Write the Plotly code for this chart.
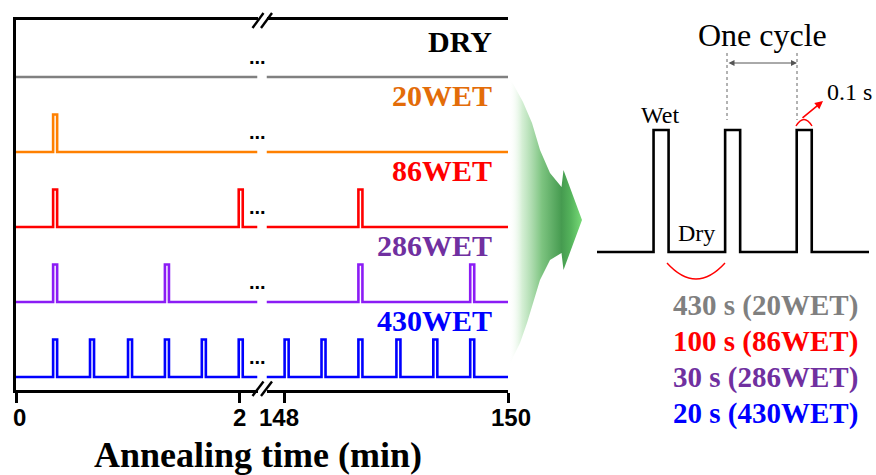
import plotly.graph_objects as go

W, H = 876, 475

# ---------------- data ----------------
series_names = ["DRY", "20WET", "86WET", "286WET", "430WET"]
row_levels = [4, 3, 2, 1, 0]
# centres of the wet pulses (min) in the early window (0-2 min) and late window (148-150 min)
pulses_early = [[], [0.35], [0.35, 2.01], [0.35, 1.35],
                [0.35, 0.68, 1.02, 1.35, 1.68, 2.01]]
pulses_late = [[], [], [148.68], [148.68, 149.68],
               [148.02, 148.35, 148.68, 149.02, 149.35, 149.68]]
early_ticks = [0, 2]
late_ticks = [148, 150]
early_window = [0, 2.16]
late_window = [147.84, 150]

# schematic: wet pulses starting at each cycle
schem_cycles = [0, 1, 2]
cycle_texts = ["430 s (20WET)", "100 s (86WET)", "30 s (286WET)", "20 s (430WET)"]

# ---------------- styles ----------------
line_colors = ["#808080", "#FF8000", "#FF0000", "#8B1CF5", "#0000FF"]
label_colors = ["#000000", "#E36C09", "#FF0000", "#7030A0", "#0000FF"]
cycle_colors = ["#808080", "#FF0000", "#7030A0", "#0000FF"]
SERIF = "Liberation Serif"
SANS = "Liberation Sans"
PULSE_W = 0.036
PULSE_H = 0.5


def px(x):
    return x / W


def py(y):
    return 1 - y / H


def pulse_path(t0, t1, centers, level):
    xs, ys = [t0], [level]
    for c in centers:
        a, b = c - PULSE_W / 2, c + PULSE_W / 2
        xs += [a, a, b, b]
        ys += [level, level + PULSE_H, level + PULSE_H, level]
    xs.append(t1)
    ys.append(level)
    return xs, ys


fig = go.Figure()

for name, lvl, col, pe, pl in zip(series_names, row_levels, line_colors, pulses_early, pulses_late):
    xs, ys = pulse_path(early_window[0], early_window[1], pe, lvl)
    fig.add_trace(go.Scatter(x=xs, y=ys, mode="lines", xaxis="x", yaxis="y",
                             line=dict(color=col, width=2.6), showlegend=False, hoverinfo="skip"))
    xs, ys = pulse_path(late_window[0], late_window[1], pl, lvl)
    fig.add_trace(go.Scatter(x=xs, y=ys, mode="lines", xaxis="x2", yaxis="y",
                             line=dict(color=col, width=2.6), showlegend=False, hoverinfo="skip"))

# green gradient arrow (decoration, pixel overlay axes)
arrow_x = [509, 512, 523, 532, 540, 550, 561.5, 563.5, 582, 563.5, 561.5, 550, 540, 533, 527, 520, 513, 509]
arrow_y = [78, 82, 102, 123, 150, 173, 187, 170, 220, 270, 253, 260, 280, 303, 323, 343, 357, 368]
fig.add_trace(go.Scatter(
    x=arrow_x, y=arrow_y, xaxis="x3", yaxis="y3", mode="lines", fill="toself",
    line=dict(width=0, color="rgba(0,0,0,0)"),
    fillgradient=dict(type="horizontal", colorscale=[
        [0.0, "rgba(255,255,255,0)"], [0.18, "rgba(205,236,205,0.85)"],
        [0.45, "rgb(125,196,128)"], [0.72, "rgb(70,155,80)"],
        [0.85, "rgb(85,180,92)"], [1.0, "rgb(120,218,120)"]]),
    showlegend=False, hoverinfo="skip"))

# schematic waveform
sx, sy = [-0.79], [0]
for c in schem_cycles:
    sx += [c, c, c + 0.21, c + 0.21]
    sy += [0, 1, 1, 0]
sx.append(3.01)
sy.append(0)
fig.add_trace(go.Scatter(x=sx, y=sy, xaxis="x4", yaxis="y4", mode="lines",
                         line=dict(color="black", width=2.6), showlegend=False, hoverinfo="skip"))

axis_common = dict(showline=True, linewidth=2.6, linecolor="black", mirror=True,
                   ticks="outside", ticklen=10, tickwidth=2.6, tickcolor="black",
                   showticklabels=False, showgrid=False, zeroline=False, automargin=False)
yr = [-0.1733, 4.76]
fig.update_layout(
    width=W, height=H, margin=dict(l=0, r=0, t=0, b=0),
    paper_bgcolor="white", plot_bgcolor="rgba(0,0,0,0)",
    xaxis=dict(domain=[px(16), px(257.5)], range=early_window, anchor="y",
               tickvals=early_ticks, **axis_common),
    xaxis2=dict(domain=[px(266.5), px(508)], range=late_window, anchor="y",
                tickvals=late_ticks, **axis_common),
    yaxis=dict(domain=[py(390), py(20)], range=yr, anchor="x", showline=True, linewidth=2.6,
               linecolor="black", showticklabels=False, ticks="", showgrid=False, zeroline=False),
    yaxis2=dict(domain=[py(390), py(20)], range=yr, anchor="x2", overlaying="y", side="right",
                showline=True, linewidth=2.6, linecolor="black", showticklabels=False, ticks="",
                showgrid=False, zeroline=False),
    xaxis3=dict(domain=[0, 1], range=[0, W], anchor="y3", visible=False),
    yaxis3=dict(domain=[0, 1], range=[H, 0], anchor="x3", visible=False),
    xaxis4=dict(domain=[px(597), px(869)], range=[-0.79, 3.01], anchor="y4", visible=False),
    yaxis4=dict(domain=[py(262), py(120)], range=[-0.082, 1.082], anchor="x4", visible=False),
)

ann = []
# tick labels, placed at the tick values of each axis segment
tick_shift = {0: 3, 2: 0, 148: -5, 150: 3}
for ref, ticks in (("x", early_ticks), ("x2", late_ticks)):
    for v in ticks:
        ann.append(dict(text=str(v), xref=ref, yref="paper", x=v, y=py(417),
                        xanchor="center", yanchor="middle", showarrow=False,
                        xshift=tick_shift.get(v, 0),
                        font=dict(family=SANS, size=24, color="black", weight="bold")))
# row labels
for name, lvl, col in zip(series_names, row_levels, label_colors):
    off = 0.47 if name == "DRY" else 0.76
    ann.append(dict(text=name, xref="paper", yref="y", x=px(494), y=lvl + off,
                    xanchor="right", yanchor="middle", showarrow=False,
                    font=dict(family=SERIF, size=30, color=col, weight="bold")))
    ann.append(dict(text="...", xref="paper", yref="y", x=px(257), y=lvl + 0.273,
                    xanchor="center", yanchor="middle", showarrow=False,
                    font=dict(family=SANS, size=20, color="black", weight="bold")))
ann.append(dict(text="Annealing time (min)", xref="paper", yref="paper", x=px(257.5), y=py(455),
                xanchor="center", yanchor="middle", showarrow=False,
                font=dict(family=SERIF, size=36, color="black", weight="bold")))
ann.append(dict(text="One cycle", xref="paper", yref="paper", x=px(762), y=py(35),
                xanchor="center", yanchor="middle", showarrow=False,
                font=dict(family=SERIF, size=32, color="black")))
ann.append(dict(text="Wet", xref="paper", yref="paper", x=px(659.5), y=py(114.5),
                xanchor="center", yanchor="middle", showarrow=False,
                font=dict(family=SERIF, size=24, color="black")))
ann.append(dict(text="Dry", xref="paper", yref="paper", x=px(696), y=py(233),
                xanchor="center", yanchor="middle", showarrow=False,
                font=dict(family=SERIF, size=24, color="black")))
ann.append(dict(text="0.1 s", xref="paper", yref="paper", x=px(825), y=py(92.5),
                xanchor="left", yanchor="middle", showarrow=False,
                font=dict(family=SERIF, size=24, color="black")))
for i, (t, c) in enumerate(zip(cycle_texts, cycle_colors)):
    ann.append(dict(text=t, xref="paper", yref="paper", x=px(765.5), y=py(305 + 36.3 * i),
                    xanchor="center", yanchor="middle", showarrow=False,
                    font=dict(family=SERIF, size=29, color=c, weight="bold")))
# double-headed arrow for one cycle (pixel overlay axes)
ann.append(dict(text="", xref="x3", yref="y3", axref="x3", ayref="y3",
                x=797, y=63, ax=727, ay=63, showarrow=True,
                arrowside="end+start", arrowhead=2, arrowsize=1.2, arrowwidth=1,
                arrowcolor="#555555"))
# red arrow to 0.1 s
ann.append(dict(text="", xref="x3", yref="y3", axref="x3", ayref="y3",
                x=823, y=101, ax=801, ay=119, showarrow=True,
                arrowhead=2, arrowsize=1, arrowwidth=1.6, arrowcolor="#FF0000"))
fig.update_layout(annotations=ann)

shapes = []
# break marks
for (y0, y1) in [(28, 13), (396, 381.5)]:
    for xs0 in [252.5, 261]:
        shapes.append(dict(type="line", xref="paper", yref="paper",
                           x0=px(xs0), y0=py(y0), x1=px(xs0 + 11), y1=py(y1),
                           line=dict(color="black", width=2.4)))
# dashed guides
for xg in [727, 797]:
    shapes.append(dict(type="line", xref="paper", yref="paper",
                       x0=px(xg), y0=py(53), x1=px(xg), y1=py(120),
                       line=dict(color="#666666", width=1, dash="dot")))
# red arcs
shapes.append(dict(type="path", xref="paper", yref="paper",
                   path=f"M {px(667)},{py(263)} Q {px(696)},{py(295)} {px(725)},{py(263)}",
                   line=dict(color="#FF0000", width=1.4)))
shapes.append(dict(type="path", xref="paper", yref="paper",
                   path=f"M {px(796)},{py(126)} Q {px(804)},{py(113)} {px(812)},{py(126)}",
                   line=dict(color="#FF0000", width=1.4)))
fig.update_layout(shapes=shapes)

fig.write_html("out.html", config={"displayModeBar": False},
               post_script="document.body.style.margin='0';document.body.style.overflow='hidden';")
